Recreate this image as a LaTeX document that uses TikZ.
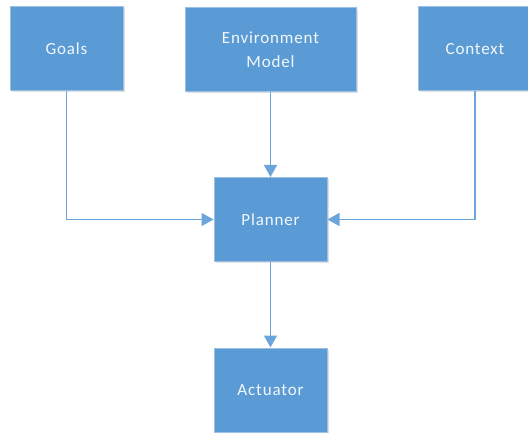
\documentclass[tikz,border=0pt]{standalone}
\usepackage{fontspec}
\setmainfont[LetterSpace=5]{Carlito}
\usetikzlibrary{arrows.meta,shadows}
\definecolor{boxfill}{HTML}{5B9BD5}
\definecolor{boxline}{HTML}{9DBFE3}
\definecolor{arrowc}{HTML}{6BA5DA}
\tikzset{
  blockbox/.style={draw=boxline, line width=1pt, fill=boxfill, text=white!92!boxfill,
    minimum height=84pt, inner sep=2pt, align=center,
    font=\fontsize{17}{24}\selectfont,
    drop shadow={shadow xshift=1.5pt, shadow yshift=-1.5pt, opacity=0.25, fill=gray}},
  arr/.style={draw=arrowc, line width=1.4pt, -{Triangle[width=13pt,length=12pt]}}
}
\begin{document}
\begin{tikzpicture}[x=1pt,y=-1pt]
\useasboundingbox (0,0) rectangle (528,433);
\node[blockbox, minimum width=113pt] (goals) at (66.5,49) {Goals};
\node[blockbox, minimum width=171pt] (env) at (270.5,50) {Environment\\Model};
\node[blockbox, minimum width=114pt] (ctx) at (475,49) {Context};
\node[blockbox, minimum width=113pt] (planner) at (270.5,219.5) {Planner};
\node[blockbox, minimum width=113pt] (act) at (270.5,390) {Actuator};
\draw[arr] (goals.south) |- (planner.west);
\draw[arr] (ctx.south) |- (planner.east);
\draw[arr] (env.south) -- (planner.north);
\draw[arr] (planner.south) -- (act.north);
\end{tikzpicture}
\end{document}
